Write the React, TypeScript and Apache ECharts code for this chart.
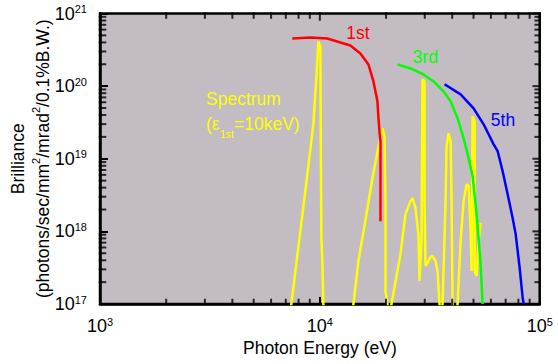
import React, { useEffect, useRef } from 'react';
import * as echarts from 'echarts';

const X_MIN = 1e3;
const X_MAX = 1e5;
const Y_MIN = 1e17;
const Y_MAX = 1e21;

// 1st harmonic brilliance curve [photon energy eV, brilliance]
const firstHarmonic: [number, number][] = [
  [7494, 4.53e20], [9052, 4.68e20], [10819, 4.53e20], [12404, 3.99e20], [13772, 3.63e20],
  [15292, 2.82e20], [16634, 1.99e20], [17530, 1.16e20], [18280, 6.17e19], [18478, 3.61e19],
  [18670, 2.39e19], [18870, 1.74e19], [18870, 1.38e18],
];

const thirdHarmonic: [number, number][] = [
  [22550, 1.99e20], [25844, 1.75e20], [29620, 1.45e20], [32890, 1.16e20], [36530, 8.47e19],
  [39320, 6.17e19], [42310, 3.61e19], [45070, 1.91e19], [47490, 1.02e19], [49520, 5.74e18],
  [51100, 2.37e18], [52740, 8.07e17], [53850, 3.55e17], [55000, 1.0e17],
];

const fifthHarmonic: [number, number][] = [
  [36920, 1.06e20], [43670, 7.71e19], [50040, 4.94e19], [55580, 2.98e19], [61720, 1.58e19],
  [64380, 1.27e19], [67830, 6.73e18], [71480, 3.25e18], [75340, 1.52e18], [77750, 9.17e17],
  [79400, 5.36e17], [81080, 3.13e17], [83680, 1.21e17], [84560, 1.0e17],
];

const spectrum: [number, number][] = [
  [7260, 5.8e16], [7418, 1e17], [8152, 1.01e18], [8864, 7.89e18], [9342, 2.98e19],
  [9641, 1.28e20], [9845, 4.12e20], [10053, 3.52e20], [10106, 9.24e18], [10159, 8.07e17],
  [10266, 3.9e17], [10373, 1e17], [10483, 5.8e16],
  [13916, 5.8e16], [14211, 1e17], [14976, 3.9e17], [15951, 1.18e18], [17350, 5.39e18],
  [18478, 1.49e19], [19270, 2.63e19], [19677, 2.04e19], [19884, 2.61e18], [19884, 1.51e17],
  [20305, 1e17], [20519, 5.8e16],
  [20735, 5.8e16], [21171, 1e17], [23268, 4.86e17], [24521, 1.73e18], [25844, 2.61e18],
  [26391, 2.86e18], [27237, 2.09e18], [28107, 8.6e17], [28403, 2.07e17], [29000, 7.34e17],
  [29309, 1.24e20], [29930, 1.16e20], [29930, 2.61e18], [30242, 3.33e17], [30882, 3.66e17],
  [31870, 4.43e17], [32545, 4.57e17], [33588, 3.9e17], [34300, 2.84e17], [35026, 1e17],
  [35400, 5.8e16], [36150, 1e17], [37310, 2.61e18], [37700, 1.49e19], [38500, 2.24e19],
  [39320, 1.74e19], [39730, 2.61e18], [40150, 1e17], [40570, 5.8e16],
  [41430, 5.8e16], [42310, 1e17], [43670, 7.34e17], [45070, 2.61e18], [46500, 4.46e18],
  [47490, 4.19e18], [48490, 1.01e18], [49000, 2.84e17], [49520, 3.84e19], [50570, 3.28e19],
  [50570, 2.84e17], [51640, 2.43e17], [52740, 7.34e17], [53850, 1.3e18],
];

const xDecades: number[] = [1e3, 1e4, 1e5];
const yDecades: number[] = [1e17, 1e18, 1e19, 1e20, 1e21];
const xMinorTicks: number[] = [
  2e3, 3e3, 4e3, 5e3, 6e3, 7e3, 8e3, 9e3,
  2e4, 3e4, 4e4, 5e4, 6e4, 7e4, 8e4, 9e4,
];
const yMinorTicks: number[] = [
  2e17, 3e17, 4e17, 5e17, 6e17, 7e17, 8e17, 9e17,
  2e18, 3e18, 4e18, 5e18, 6e18, 7e18, 8e18, 9e18,
  2e19, 3e19, 4e19, 5e19, 6e19, 7e19, 8e19, 9e19,
  2e20, 3e20, 4e20, 5e20, 6e20, 7e20, 8e20, 9e20,
];

const FONT = 'Liberation Sans, Arial, sans-serif';
const TICK_W = 2;
const BORDER_W = 2.5;

const powLabel = (v: number) => '{b|10}{s|' + Math.round(Math.log10(v)) + '}';
const labelRich = {
  b: { fontSize: 18, lineHeight: 20, color: '#000', fontFamily: FONT },
  s: { fontSize: 11, lineHeight: 8, verticalAlign: 'top', color: '#000', fontFamily: FONT },
};

// tick marks on the frame, placed through the axes' scales as thin rect symbols
function tickSeries(values: number[], side: string, len: number) {
  const size = len + BORDER_W;
  const off = len / 2;
  const vertical = side === 'bottom' || side === 'top';
  const data = values.map((v) => {
    if (side === 'bottom') return [v, Y_MIN];
    if (side === 'top') return [v, Y_MAX];
    if (side === 'left') return [X_MIN, v];
    return [X_MAX, v];
  });
  let offset = [0, 0];
  if (side === 'bottom') offset = [0, -off];
  if (side === 'top') offset = [0, off];
  if (side === 'left') offset = [off, 0];
  if (side === 'right') offset = [-off, 0];
  return {
    type: 'scatter',
    data,
    clip: false,
    z: 5,
    symbol: 'rect',
    symbolSize: vertical ? [TICK_W, size] : [size, TICK_W],
    symbolOffset: offset,
    itemStyle: { color: '#000' },
  };
}

export default function App() {
  const ref = useRef<HTMLDivElement>(null);

  useEffect(() => {
    if (!ref.current) return;
    const chart = echarts.init(ref.current, null, { renderer: 'svg' });

    const option: any = {
      animation: false,
      backgroundColor: '#ffffff',
      grid: {
        left: 100, top: 13.5, right: 18.3, bottom: 60,
        show: true, backgroundColor: '#c3bcc3', borderColor: '#000', borderWidth: BORDER_W,
        containLabel: false, outerBoundsMode: 'none',
      },
      xAxis: {
        type: 'log', min: X_MIN, max: X_MAX,
        axisLine: { show: true, lineStyle: { color: '#000', width: BORDER_W } },
        axisTick: { show: true, inside: true, length: 7, lineStyle: { color: '#000', width: TICK_W } },
        splitLine: { show: false },
        axisLabel: { formatter: powLabel, rich: labelRich, margin: 12 },
        name: 'Photon Energy (eV)', nameLocation: 'middle', nameGap: 35, nameMoveOverlap: false,
        nameTextStyle: { fontSize: 17.5, color: '#000', fontFamily: FONT },
      },
      yAxis: {
        type: 'log', min: Y_MIN, max: Y_MAX,
        axisLine: { show: true, lineStyle: { color: '#000', width: BORDER_W } },
        axisTick: { show: true, inside: true, length: 8, lineStyle: { color: '#000', width: TICK_W } },
        splitLine: { show: false },
        axisLabel: { formatter: powLabel, rich: labelRich, margin: 13 },
        name: '{a|Brilliance}\n{a|(photons/sec/mm}{s|2}{a|/mrad}{s|2}{a|/0.1%B.W.)}',
        nameLocation: 'middle', nameGap: 45, nameRotate: 90, nameMoveOverlap: false,
        nameTextStyle: {
          color: '#000',
          rich: {
            a: { fontSize: 17.5, lineHeight: 25, color: '#000', fontFamily: FONT },
            s: { fontSize: 11, lineHeight: 9, verticalAlign: 'top', color: '#000', fontFamily: FONT },
          },
        },
      },
      series: [
        {
          type: 'line', data: spectrum, showSymbol: false, clip: true, z: 2,
          lineStyle: { color: '#ffff00', width: 2.5 },
        },
        {
          type: 'line', data: firstHarmonic, showSymbol: false, clip: true, z: 3,
          lineStyle: { color: '#ff0000', width: 2.5 },
        },
        {
          type: 'line', data: thirdHarmonic, showSymbol: false, clip: true, z: 3,
          lineStyle: { color: '#00ff00', width: 2.5 },
        },
        {
          type: 'line', data: fifthHarmonic, showSymbol: false, clip: true, z: 3,
          lineStyle: { color: '#0000ff', width: 2.5 },
        },
        tickSeries(xMinorTicks, 'bottom', 4),
        tickSeries(xMinorTicks, 'top', 4),
        tickSeries(xDecades, 'top', 6),
        tickSeries(yMinorTicks, 'left', 5),
        tickSeries(yMinorTicks, 'right', 4),
        tickSeries(yDecades, 'right', 6),
      ],
      graphic: [
        { type: 'text', x: 358, y: 32.5, style: { text: '1st', fill: '#ff0000', font: '17.5px ' + FONT, textAlign: 'center', textVerticalAlign: 'middle' } },
        { type: 'text', x: 425.5, y: 57, style: { text: '3rd', fill: '#00ff00', font: '17.5px ' + FONT, textAlign: 'center', textVerticalAlign: 'middle' } },
        { type: 'text', x: 503, y: 119.5, style: { text: '5th', fill: '#0000ff', font: '17.5px ' + FONT, textAlign: 'center', textVerticalAlign: 'middle' } },
        { type: 'text', x: 206, y: 99, style: { text: 'Spectrum', fill: '#ffff00', font: '17.5px ' + FONT, textAlign: 'left', textVerticalAlign: 'middle' } },
        { type: 'text', x: 206, y: 123.5, style: { text: '(ε', fill: '#ffff00', font: '17.5px ' + FONT, textAlign: 'left', textVerticalAlign: 'middle' } },
        { type: 'text', x: 220, y: 133.5, style: { text: '1st', fill: '#ffff00', font: '10.5px ' + FONT, textAlign: 'left', textVerticalAlign: 'middle' } },
        { type: 'text', x: 234, y: 123.5, style: { text: '=10keV)', fill: '#ffff00', font: '17.5px ' + FONT, textAlign: 'left', textVerticalAlign: 'middle' } },
      ],
    };

    chart.setOption(option);
    return () => chart.dispose();
  }, []);

  return (
    <div
      ref={ref}
      style={{ position: 'fixed', left: 0, top: 0, width: 558, height: 364, background: '#fff' }}
    />
  );
}
